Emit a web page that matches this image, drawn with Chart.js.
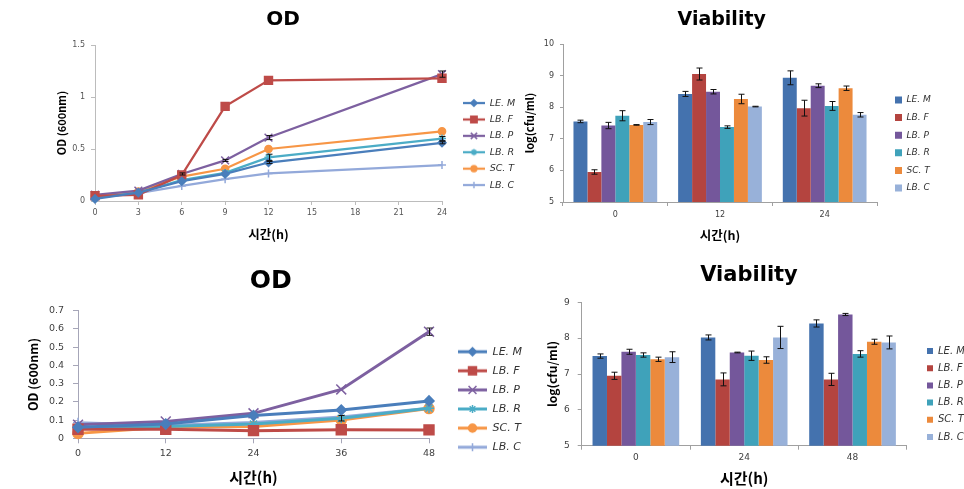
<!DOCTYPE html>
<html>
<head>
<meta charset="utf-8">
<script src="https://cdn.jsdelivr.net/npm/chart.js@4.4.0/dist/chart.umd.min.js"></script>
<style>
  body { margin: 0; background: #fff; }
  #wrap { position: relative; width: 964px; height: 489px; overflow: hidden; }
  canvas { position: absolute; }
</style>
</head>
<body>
<div id="wrap">
  <canvas id="via1" width="482" height="245" style="left:482px;top:0"></canvas>
  <canvas id="via2" width="482" height="244" style="left:482px;top:245px"></canvas>
  <canvas id="od1" width="540" height="245" style="left:0;top:0"></canvas>
  <canvas id="od2" width="540" height="244" style="left:0;top:245px"></canvas>
</div>
<script>
// data
const strains = ['LE. M', 'LB. F', 'LB. P', 'LB. R', 'SC. T', 'LB. C'];

const od1Hours = [0, 3, 6, 9, 12, 24];
const od1XTicks = [0, 3, 6, 9, 12, 15, 18, 21, 24];
const od1YTicks = [0, 0.5, 1, 1.5];
const od1Values = [
  [0.02, 0.08, 0.19, 0.26, 0.37, 0.56],
  [0.05, 0.06, 0.25, 0.91, 1.16, 1.18],
  [0.06, 0.10, 0.26, 0.39, 0.61, 1.22],
  [0.03, 0.08, 0.20, 0.27, 0.42, 0.60],
  [0.05, 0.09, 0.235, 0.31, 0.50, 0.67],
  [0.04, 0.075, 0.145, 0.21, 0.265, 0.345]
];
const od1Errors = [
  [0, 0, 0, 0, 0.01, 0.01],
  [0, 0, 0, 0, 0, 0],
  [0, 0, 0.01, 0.01, 0.02, 0.03],
  [0, 0, 0, 0, 0.03, 0.02],
  [0, 0, 0, 0, 0, 0],
  [0, 0, 0, 0, 0, 0]
];

const od2Hours = [0, 12, 24, 36, 48];
const od2XTicks = [0, 12, 24, 36, 48];
const od2YTicks = [0, 0.1, 0.2, 0.3, 0.4, 0.5, 0.6, 0.7];
const od2Values = [
  [0.06, 0.078, 0.125, 0.155, 0.205],
  [0.05, 0.05, 0.042, 0.047, 0.046],
  [0.075, 0.092, 0.137, 0.268, 0.585],
  [0.055, 0.065, 0.078, 0.11, 0.165],
  [0.027, 0.06, 0.065, 0.10, 0.163],
  [0.085, 0.07, 0.087, 0.117, 0.165]
];
const od2Errors = [
  [0, 0, 0, 0, 0],
  [0, 0, 0, 0, 0],
  [0, 0, 0, 0, 0.02],
  [0, 0, 0, 0.015, 0],
  [0, 0, 0, 0, 0],
  [0, 0, 0, 0, 0]
];

const via1Times = ['0', '12', '24'];
const via1YTicks = [5, 6, 7, 8, 9, 10];
const via1Values = [
  [7.55, 8.42, 8.93],
  [5.95, 9.05, 7.97],
  [7.42, 8.49, 8.68],
  [7.73, 7.37, 8.04],
  [7.44, 8.26, 8.60],
  [7.53, 8.02, 7.76]
];
const via1Errors = [
  [0.04, 0.08, 0.22],
  [0.07, 0.19, 0.25],
  [0.10, 0.07, 0.06],
  [0.16, 0.04, 0.14],
  [0.01, 0.15, 0.07],
  [0.08, 0.01, 0.07]
];

const via2Times = ['0', '24', '48'];
const via2YTicks = [5, 6, 7, 8, 9];
const via2Values = [
  [7.50, 8.02, 8.41],
  [6.95, 6.85, 6.85],
  [7.62, 7.60, 8.66],
  [7.53, 7.51, 7.56],
  [7.41, 7.39, 7.90],
  [7.47, 8.02, 7.88]
];
const via2Errors = [
  [0.06, 0.07, 0.10],
  [0.10, 0.18, 0.17],
  [0.07, 0.01, 0.03],
  [0.06, 0.13, 0.09],
  [0.06, 0.09, 0.07],
  [0.15, 0.31, 0.18]
];

const lineColors = ['#4A7EBB', '#BE4B48', '#7D60A0', '#4BACC6', '#F79646', '#93A9DA'];
const barColors = ['#4472AE', '#B4443F', '#74579B', '#3FA2BA', '#EC8A3C', '#98B1D9'];
const markers = ['rectRot', 'rect', 'crossRot', 'star', 'circle', 'cross'];

Chart.defaults.font.family = "'DejaVu Sans', sans-serif";
Chart.defaults.color = '#404040';

const errorBars = {
  id: 'errorBars',
  afterDatasetsDraw(chart, args, opts) {
    const ctx = chart.ctx, y = chart.scales.y;
    ctx.save();
    ctx.strokeStyle = '#111';
    ctx.lineWidth = 1;
    chart.data.datasets.forEach((ds, i) => {
      if (!ds.errors) return;
      chart.getDatasetMeta(i).data.forEach((el, j) => {
        const e = ds.errors[j];
        if (!e) return;
        const d = ds.data[j];
        const v = typeof d === 'object' ? d.y : d;
        const x = Math.round(el.x) + 0.5;
        const t = y.getPixelForValue(v + e), b = y.getPixelForValue(v - e);
        const w = opts.cap || 3;
        ctx.beginPath();
        ctx.moveTo(x, t); ctx.lineTo(x, b);
        ctx.moveTo(x - w, t); ctx.lineTo(x + w, t);
        ctx.moveTo(x - w, b); ctx.lineTo(x + w, b);
        ctx.stroke();
      });
    });
    ctx.restore();
  }
};

// move title and legend to where the original figure has them
const placeBoxes = {
  id: 'placeBoxes',
  afterLayout(chart, args, o) {
    const t = chart.titleBlock;
    if (t && o.titleX != null) {
      const h = t.height;
      t.left = o.titleX - 200; t.right = o.titleX + 200;
      t.top = o.titleY - h / 2; t.bottom = t.top + h;
    }
    const l = chart.legend;
    if (l && o.legendX != null) {
      const w = l.width, h = l.height;
      l.left = o.legendX; l.right = o.legendX + w;
      l.top = o.legendY; l.bottom = o.legendY + h;
    }
  }
};

function legendIcon(color, style, w, r, lw) {
  const c = document.createElement('canvas');
  c.width = w; c.height = 14;
  const g = c.getContext('2d');
  g.strokeStyle = color; g.fillStyle = color;
  g.lineWidth = lw;
  g.beginPath(); g.moveTo(0, 7); g.lineTo(w, 7); g.stroke();
  g.lineWidth = 1.5;
  Chart.helpers.drawPoint(g, { pointStyle: style, radius: r, borderWidth: 1.5, rotation: 0 }, w / 2, 7);
  return c;
}

const plainNum = (v) => String(v);

function makeLine(id, hours, values, errors, xTicks, yTicks, c) {
  const axisColor = c.axisColor;
  const icons = strains.map((s, i) => legendIcon(lineColors[i], markers[i], c.iconW, c.radii[i] * 0.8, c.lineW));
  new Chart(document.getElementById(id), {
    type: 'line',
    data: {
      datasets: strains.map((s, i) => ({
        label: s,
        data: hours.map((h, j) => ({ x: h, y: values[i][j] })),
        errors: errors[i],
        borderColor: lineColors[i],
        backgroundColor: lineColors[i],
        borderWidth: c.lineW,
        pointStyle: markers[i],
        pointRadius: c.radii[i],
        pointBorderWidth: 1.5,
        pointBackgroundColor: lineColors[i],
        pointBorderColor: lineColors[i],
        tension: 0,
        clip: false
      }))
    },
    options: {
      animation: false,
      responsive: false,
      layout: { padding: c.pad },
      plugins: {
        title: { display: true, text: 'OD', color: '#000', padding: 0,
          font: { family: "'DejaVu Sans'", weight: 'bold', size: c.titleSize } },
        legend: {
          position: 'chartArea', align: 'start',
          labels: {
            usePointStyle: true, pointStyleWidth: c.iconW,
            padding: c.legendPad, color: '#333',
            font: { style: 'italic', size: c.legendSize },
            generateLabels: (chart) => strains.map((s, i) => ({
              text: s, pointStyle: icons[i], fillStyle: lineColors[i],
              strokeStyle: lineColors[i], fontColor: '#333', textAlign: 'left',
              lineWidth: 0, hidden: false, datasetIndex: i
            }))
          }
        },
        tooltip: { enabled: false },
        errorBars: { cap: 3 },
        placeBoxes: { titleX: c.titleX, titleY: c.titleY, legendX: c.legendX, legendY: c.legendY }
      },
      scales: {
        x: {
          type: 'linear', min: xTicks[0], max: xTicks[xTicks.length - 1],
          afterBuildTicks: (s) => { s.ticks = xTicks.map(v => ({ value: v })); },
          afterFit: (s) => { s.height = c.xH; },
          ticks: { font: { size: c.tickSize }, padding: c.xTickPad, color: c.tickColor, callback: plainNum },
          grid: { drawOnChartArea: false, tickLength: c.xTickLen, color: axisColor },
          border: { color: axisColor },
          title: { display: true, text: '시간(h)', color: '#000', padding: 0,
            font: { family: "'Noto Sans CJK KR'", weight: 'bold', size: c.xTitleSize } }
        },
        y: {
          min: yTicks[0], max: yTicks[yTicks.length - 1],
          afterBuildTicks: (s) => { s.ticks = yTicks.map(v => ({ value: v })); },
          afterFit: (s) => { s.width = c.yW; },
          ticks: { font: { size: c.tickSize }, padding: c.yTickPad, color: c.tickColor, callback: plainNum },
          grid: { drawOnChartArea: false, tickLength: c.yTickLen, color: axisColor },
          border: { color: axisColor },
          title: { display: true, text: 'OD (600nm)', color: '#000', padding: 0,
            font: { family: "'Noto Sans CJK KR'", weight: 'bold', size: c.yTitleSize } }
        }
      }
    },
    plugins: [errorBars, placeBoxes]
  });
}

function makeBar(id, times, values, errors, yTicks, c) {
  const axisColor = c.axisColor;
  new Chart(document.getElementById(id), {
    type: 'bar',
    data: {
      labels: times,
      datasets: strains.map((s, i) => ({
        label: s,
        data: values[i],
        errors: errors[i],
        backgroundColor: barColors[i],
        borderWidth: 0,
        categoryPercentage: 0.8,
        barPercentage: 1.0
      }))
    },
    options: {
      animation: false,
      responsive: false,
      layout: { padding: c.pad },
      plugins: {
        title: { display: true, text: 'Viability', color: '#000', padding: 0,
          font: { family: "'DejaVu Sans'", weight: 'bold', size: c.titleSize } },
        legend: {
          position: 'chartArea', align: 'start',
          labels: { boxWidth: c.box, boxHeight: c.box, padding: c.legendPad, color: '#333',
            font: { style: 'italic', size: c.legendSize } }
        },
        tooltip: { enabled: false },
        errorBars: { cap: 3 },
        placeBoxes: { titleX: c.titleX, titleY: c.titleY, legendX: c.legendX, legendY: c.legendY }
      },
      scales: {
        x: {
          afterFit: (s) => { s.height = c.xH; },
          ticks: { font: { size: c.tickSize }, padding: c.xTickPad, color: c.tickColor },
          grid: { drawOnChartArea: false, offset: true, tickLength: c.xTickLen, color: axisColor },
          border: { color: axisColor },
          title: { display: true, text: '시간(h)', color: '#000', padding: 0,
            font: { family: "'Noto Sans CJK KR'", weight: 'bold', size: c.xTitleSize } }
        },
        y: {
          min: yTicks[0], max: yTicks[yTicks.length - 1],
          afterBuildTicks: (s) => { s.ticks = yTicks.map(v => ({ value: v })); },
          afterFit: (s) => { s.width = c.yW; },
          ticks: { font: { size: c.tickSize }, padding: c.yTickPad, color: c.tickColor, callback: plainNum },
          grid: { drawOnChartArea: false, tickLength: c.yTickLen, color: axisColor },
          border: { color: axisColor },
          title: { display: true, text: 'log(cfu/ml)', color: '#000', padding: 0,
            font: { family: "'Noto Sans CJK KR'", weight: 'bold', size: c.yTitleSize } }
        }
      }
    },
    plugins: [errorBars, placeBoxes]
  });
}

makeLine('od1', od1Hours, od1Values, od1Errors, od1XTicks, od1YTicks, {
  pad: { left: 55.4, right: 98, top: 21, bottom: 3.5 },
  yW: 39.6, xH: 40.5,
  titleSize: 20, titleX: 283, titleY: 20,
  legendX: 456, legendY: 91.4, legendSize: 9.5, legendPad: 6.9, iconW: 22,
  tickSize: 8, tickColor: '#555',
  yTickLen: 4, yTickPad: 6, xTickLen: 4, xTickPad: 3,
  xTitleSize: 12.5, yTitleSize: 11,
  radii: [4, 5.6, 5.5, 4, 3.6, 4], lineW: 2.25,
  axisColor: '#bcbcbc'
});

makeBar('via1', via1Times, via1Values, via1Errors, via1YTicks, {
  pad: { left: 41.4, right: 87, top: 21.2, bottom: 2.5 },
  yW: 39.6, xH: 40.5,
  titleSize: 19, titleX: 239.7, titleY: 20,
  legendX: 404.4, legendY: 86.9, legendSize: 9, legendPad: 8.6, box: 7,
  tickSize: 8, tickColor: '#404040',
  yTickLen: 3, yTickPad: 6, xTickLen: 4, xTickPad: 4,
  xTitleSize: 12.5, yTitleSize: 11,
  axisColor: '#a0a0a0'
});

makeLine('od2', od2Hours, od2Values, od2Errors, od2XTicks, od2YTicks, {
  pad: { left: 26.2, right: 111, top: 35.7, bottom: 2.7 },
  yW: 51.8, xH: 48,
  titleSize: 25, titleX: 270.8, titleY: 36,
  legendX: 449.9, legendY: 93.1, legendSize: 11, legendPad: 8.1, iconW: 29,
  tickSize: 9.5, tickColor: '#404040',
  yTickLen: 5, yTickPad: 9, xTickLen: 5, xTickPad: 5,
  xTitleSize: 15, yTitleSize: 12.5,
  radii: [5, 7, 7, 5, 5, 5], lineW: 3,
  axisColor: '#a6a6b8'
});

makeBar('via2', via2Times, via2Values, via2Errors, via2YTicks, {
  pad: { left: 63.1, right: 57.3, top: 32.1, bottom: 1.7 },
  yW: 36.6, xH: 41.6,
  titleSize: 21, titleX: 267, titleY: 31,
  legendX: 437.8, legendY: 93.8, legendSize: 10, legendPad: 7.2, box: 6,
  tickSize: 9, tickColor: '#404040',
  yTickLen: 4, yTickPad: 8, xTickLen: 4, xTickPad: 3,
  xTitleSize: 15, yTitleSize: 12,
  axisColor: '#a0a0a0'
});
</script>
</body>
</html>
